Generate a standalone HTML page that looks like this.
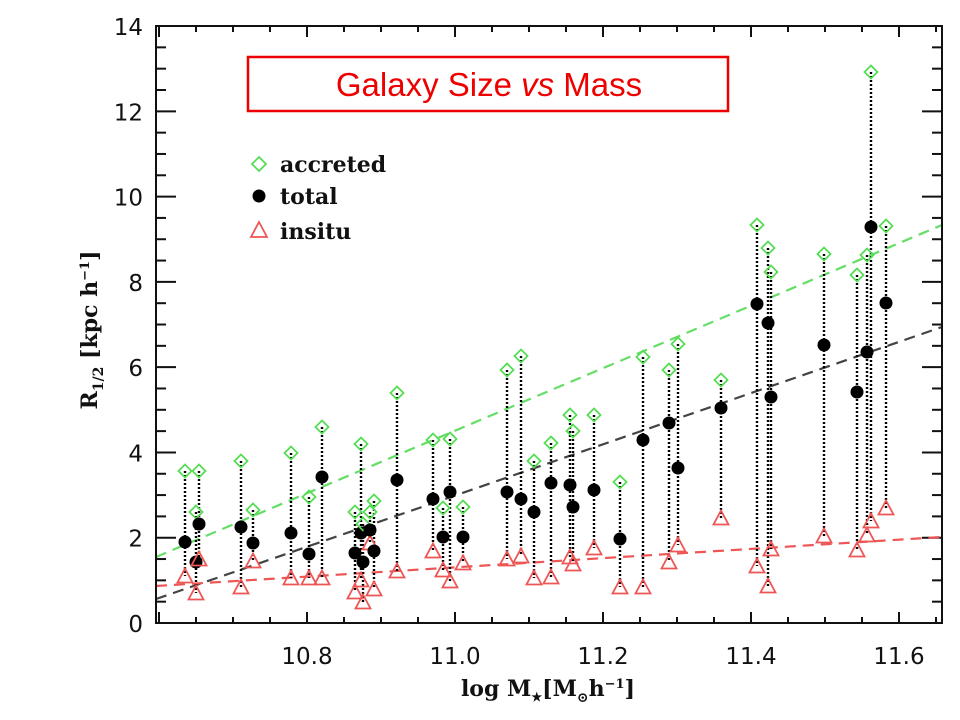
<!DOCTYPE html>
<html><head><meta charset="utf-8"><style>
body{margin:0;background:#fff}
svg{display:block}
.t{font-family:"DejaVu Serif","Liberation Serif",serif;font-size:22px;fill:#111;font-weight:bold}
.n{font-family:"DejaVu Sans","Liberation Sans",sans-serif;font-size:23px;fill:#111}
</style></head><body>
<svg id="s" width="960" height="720" xmlns="http://www.w3.org/2000/svg">
<rect width="960" height="720" fill="#fff"/>
<g id="g"></g>
<rect x="156" y="26" width="786" height="597" fill="none" stroke="#111" stroke-width="2"/>
<rect x="248" y="57" width="480" height="54" fill="none" stroke="#e00" stroke-width="2.5"/>
<text x="489" y="96" text-anchor="middle" font-family="Liberation Sans,sans-serif" font-size="33" fill="#e00">Galaxy  Size <tspan font-style="italic">vs</tspan> Mass</text>
<path d="M259 157 L266 164 L259 171 L252 164 Z" fill="none" stroke="#5d5" stroke-width="1.8"/>
<text class="t" x="280" y="172">accreted</text>
<circle cx="259" cy="196" r="6.5" fill="#000"/>
<text class="t" x="280" y="204">total</text>
<path d="M259 222 L267 237 L251 237 Z" fill="none" stroke="#e55" stroke-width="1.8"/>
<text class="t" x="280" y="239">insitu</text>
<text class="t" x="548" y="696" text-anchor="middle">log  M<tspan font-size="12" dy="5">★</tspan><tspan dy="-5">[M</tspan><tspan font-size="14" dy="6">⊙</tspan><tspan dy="-6">h</tspan><tspan font-size="13" dy="-8">−1</tspan><tspan dy="8">]</tspan></text>
<text class="t" transform="translate(97,330) rotate(-90)" text-anchor="middle">R<tspan font-size="14" dy="6">1/2</tspan><tspan dy="-6"> [kpc h</tspan><tspan font-size="13" dy="-8">−1</tspan><tspan dy="8">]</tspan></text>
</svg>
<script>
var g=document.getElementById('g'),h='';
function X(v){return 455+(v-11)*740;}
function Y(v){return 623-42.64*v;}
for(var v=10.6;v<=11.66;v+=0.05){var x=X(v),maj=Math.abs(v*5-Math.round(v*5))<0.01;var L=maj?11:6;
h+='<line x1="'+x+'" y1="623" x2="'+x+'" y2="'+(623-L)+'" stroke="#111" stroke-width="2"/>';
h+='<line x1="'+x+'" y1="26" x2="'+x+'" y2="'+(26+L)+'" stroke="#111" stroke-width="2"/>';
if(maj&&v>10.7&&v<11.65)h+='<text class="n" x="'+x+'" y="664" text-anchor="middle">'+v.toFixed(1)+'</text>';}
for(var k=0;k<=28;k++){var y=Y(k*0.5),maj=k%4==0,L=maj?20:10;
h+='<line x1="156" y1="'+y+'" x2="'+(156+L)+'" y2="'+y+'" stroke="#111" stroke-width="2"/>';
h+='<line x1="942" y1="'+y+'" x2="'+(942-L)+'" y2="'+y+'" stroke="#111" stroke-width="2"/>';
if(maj)h+='<text class="n" x="143" y="'+(y+9)+'" text-anchor="end">'+(k/2)+'</text>';}
h+='<line x1="156" y1="557" x2="942" y2="225" stroke="#6d6" stroke-width="2.2" stroke-dasharray="11 7"/>';
h+='<line x1="156" y1="599" x2="942" y2="327" stroke="#444" stroke-width="2.2" stroke-dasharray="11 7"/>';
h+='<line x1="156" y1="586" x2="942" y2="537" stroke="#e55" stroke-width="2.2" stroke-dasharray="11 7"/>';
var D=[[185,471,542,576],[196,512,562,593],[199,471,524,559],[241,461,527,587],[253,510,543,561],[291,453,533,578],[309,497,554,578],[322,427,477,578],[355,512,553,592],[361,444,533,580],[363,524,562,602],[370,512,530,543],[374,501,551,589],[397,393,480,571],[433,440,499,551],[443,508,537,570],[450,439,492,581],[463,507,537,563],[507,370,492,559],[521,356,499,556],[534,461,512,578],[551,443,483,577],[570,415,485,557],[573,431,507,564],[594,415,490,548],[620,482,539,587],[643,357,440,587],[669,370,423,562],[678,344,468,545],[721,380,408,518],[757,225,304,566],[768,248,323,586],[771,272,397,549],[824,254,345,536],[857,275,392,550],[867,255,352,535],[871,72,227,521],[886,226,303,508]];
D.forEach(function(d){h+='<line x1="'+d[0]+'" y1="'+d[1]+'" x2="'+d[0]+'" y2="'+d[3]+'" stroke="#000" stroke-width="2.4" stroke-dasharray="2 2"/>';});
D.forEach(function(d){var x=d[0],a=d[1],t=d[2],i=d[3];
h+='<path d="M'+x+' '+(a-6.5)+' L'+(x+6.5)+' '+a+' L'+x+' '+(a+6.5)+' L'+(x-6.5)+' '+a+' Z" fill="none" stroke="#5d5" stroke-width="1.8"/>';
h+='<path d="M'+x+' '+(i-7.5)+' L'+(x+7.5)+' '+(i+6.5)+' L'+(x-7.5)+' '+(i+6.5)+' Z" fill="none" stroke="#e55" stroke-width="1.8"/>';
h+='<circle cx="'+x+'" cy="'+t+'" r="6.5" fill="#000"/>';});
g.innerHTML=h;
</script>
</body></html>
